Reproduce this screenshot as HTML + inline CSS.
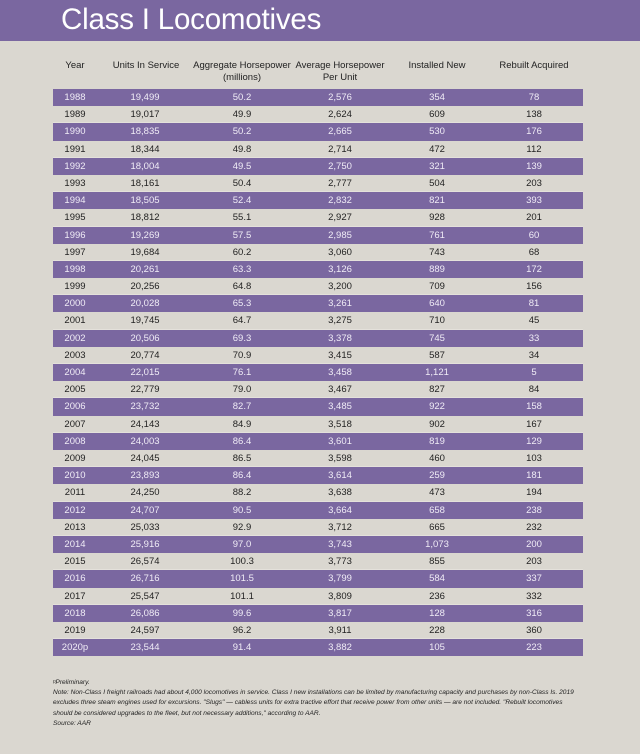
<!DOCTYPE html>
<html><head><meta charset="utf-8"><style>
*{margin:0;padding:0;box-sizing:border-box}
body{width:640px;height:754px;background:#dad7d0;position:relative;overflow:hidden;font-family:"Liberation Sans",sans-serif}
#hdr{position:absolute;left:0;top:0;width:640px;height:41px;background:#7a67a0}
#hdr h1{position:absolute;left:61px;top:3px;font-weight:normal;font-size:29.5px;color:#fff;letter-spacing:-0.2px}
.h{position:absolute;font-size:9.5px;color:#222;text-align:center;line-height:12px;transform:translateX(-50%);white-space:nowrap}
.r{position:absolute;left:53px;width:530px;height:17.2px;font-size:9.5px;line-height:17.2px;color:#222;border-bottom:1px solid #e4e1db}
.r.p{background:#7a67a0;color:#f0ecf6;border-bottom:none}
.r span{position:absolute;transform:translateX(-50%);white-space:nowrap}
.n{position:absolute;left:53px;font-size:6.6px;font-style:italic;color:#222;line-height:10.4px;width:520px}
</style></head><body>
<div id="hdr"><h1>Class I Locomotives</h1></div>
<div class="h" style="left:75px;top:60px">Year</div>
<div class="h" style="left:146px;top:60px">Units In Service</div>
<div class="h" style="left:242px;top:60px">Aggregate Horsepower<br>(millions)</div>
<div class="h" style="left:340px;top:60px">Average Horsepower<br>Per Unit</div>
<div class="h" style="left:437px;top:60px">Installed New</div>
<div class="h" style="left:534px;top:60px">Rebuilt Acquired</div>
<div id="rows"></div>
<div class="n" style="top:678px">ᵖPreliminary.</div>
<div class="n" style="top:688px;width:525px">Note: Non-Class I freight railroads had about 4,000 locomotives in service. Class I new installations can be limited by manufacturing capacity and purchases by non-Class Is. 2019 excludes three steam engines used for excursions. "Slugs" — cabless units for extra tractive effort that receive power from other units — are not included. "Rebuilt locomotives should be considered upgrades to the fleet, but not necessary additions," according to AAR.<br>Source: AAR</div>
<script>
var d=[["1988","19,499","50.2","2,576","354","78"],["1989","19,017","49.9","2,624","609","138"],["1990","18,835","50.2","2,665","530","176"],["1991","18,344","49.8","2,714","472","112"],["1992","18,004","49.5","2,750","321","139"],["1993","18,161","50.4","2,777","504","203"],["1994","18,505","52.4","2,832","821","393"],["1995","18,812","55.1","2,927","928","201"],["1996","19,269","57.5","2,985","761","60"],["1997","19,684","60.2","3,060","743","68"],["1998","20,261","63.3","3,126","889","172"],["1999","20,256","64.8","3,200","709","156"],["2000","20,028","65.3","3,261","640","81"],["2001","19,745","64.7","3,275","710","45"],["2002","20,506","69.3","3,378","745","33"],["2003","20,774","70.9","3,415","587","34"],["2004","22,015","76.1","3,458","1,121","5"],["2005","22,779","79.0","3,467","827","84"],["2006","23,732","82.7","3,485","922","158"],["2007","24,143","84.9","3,518","902","167"],["2008","24,003","86.4","3,601","819","129"],["2009","24,045","86.5","3,598","460","103"],["2010","23,893","86.4","3,614","259","181"],["2011","24,250","88.2","3,638","473","194"],["2012","24,707","90.5","3,664","658","238"],["2013","25,033","92.9","3,712","665","232"],["2014","25,916","97.0","3,743","1,073","200"],["2015","26,574","100.3","3,773","855","203"],["2016","26,716","101.5","3,799","584","337"],["2017","25,547","101.1","3,809","236","332"],["2018","26,086","99.6","3,817","128","316"],["2019","24,597","96.2","3,911","228","360"],["2020p","23,544","91.4","3,882","105","223"]];
var cx=[22,92,189,287,384,481],h="";
d.forEach(function(r,i){h+='<div class="r'+(i%2?'':' p')+'" style="top:'+(89+i*17.19).toFixed(2)+'px">';r.forEach(function(c,j){h+='<span style="left:'+cx[j]+'px">'+c+'</span>'});h+='</div>'});
document.getElementById('rows').innerHTML=h;
</script>
</body></html>
